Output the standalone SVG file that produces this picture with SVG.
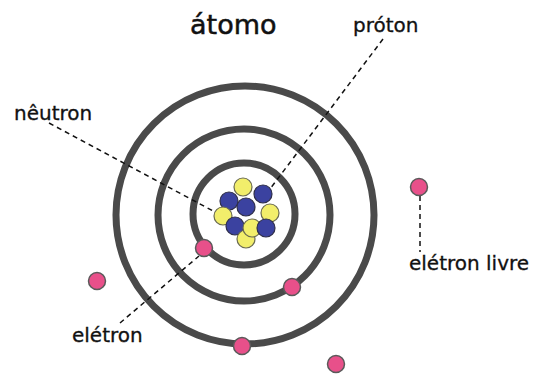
<svg xmlns="http://www.w3.org/2000/svg" width="549" height="374" viewBox="0 0 549 374">
  <style>
    .ring { fill: none; stroke: #4a4a4a; stroke-width: 7; }
    .lead { fill: none; stroke: #111; stroke-width: 1.5; stroke-dasharray: 5 4; }
    .electron { fill: #e8508a; stroke: #5a5a5a; stroke-width: 1.5; }
    .proton { fill: #3b42a0; stroke: #2e2e4a; stroke-width: 1.2; }
    .neutron { fill: #f2ee6b; stroke: #6b6b50; stroke-width: 1.2; }
    .label { font-family: "DejaVu Sans", "Liberation Sans", sans-serif; font-size: 20px; fill: #111; stroke: #111; stroke-width: 0.3; }
    .title { font-family: "DejaVu Sans", "Liberation Sans", sans-serif; font-size: 27px; fill: #111; stroke: #111; stroke-width: 0.5; }
  </style>
  <rect width="549" height="374" fill="#ffffff"/>

  <text class="title" x="190" y="34">átomo</text>

  <!-- orbits -->
  <g id="orbits">
    <circle class="ring" cx="245" cy="215" r="129"/>
    <circle class="ring" cx="244" cy="215" r="86"/>
    <circle class="ring" cx="244" cy="214" r="51"/>
  </g>

  <!-- leader lines -->
  <g id="connectors">
    <path class="lead" d="M383 39 L270 189"/>
    <path class="lead" d="M49 123 L215 212"/>
    <path class="lead" d="M120 323 L199 256"/>
    <path class="lead" d="M420 196 L420 252"/>
  </g>

  <!-- nucleus -->
  <g id="nucleus">
    <circle class="neutron" cx="243" cy="187" r="9"/>
    <circle class="proton" cx="263" cy="194" r="9"/>
    <circle class="proton" cx="229" cy="201" r="9"/>
    <circle class="proton" cx="246" cy="207" r="9"/>
    <circle class="neutron" cx="223" cy="216" r="9"/>
    <circle class="neutron" cx="270" cy="213" r="9"/>
    <circle class="proton" cx="235" cy="226" r="9"/>
    <circle class="neutron" cx="246" cy="239" r="9"/>
    <circle class="neutron" cx="252" cy="228" r="9"/>
    <circle class="proton" cx="266" cy="228" r="9"/>
  </g>

  <!-- electrons -->
  <g id="electrons">
    <circle class="electron" cx="204" cy="248" r="8.5"/>
    <circle class="electron" cx="292" cy="287" r="8.5"/>
    <circle class="electron" cx="242" cy="346" r="8.5"/>
    <circle class="electron" cx="97" cy="281" r="8.5"/>
    <circle class="electron" cx="336" cy="364" r="8.5"/>
    <circle class="electron" cx="419" cy="187" r="8.5"/>
  </g>

  <!-- labels -->
  <g id="labels">
    <text class="label" x="353" y="32">próton</text>
    <text class="label" x="14" y="120">nêutron</text>
    <text class="label" x="72" y="342">elétron</text>
    <text class="label" x="409" y="270">elétron livre</text>
  </g>
</svg>
